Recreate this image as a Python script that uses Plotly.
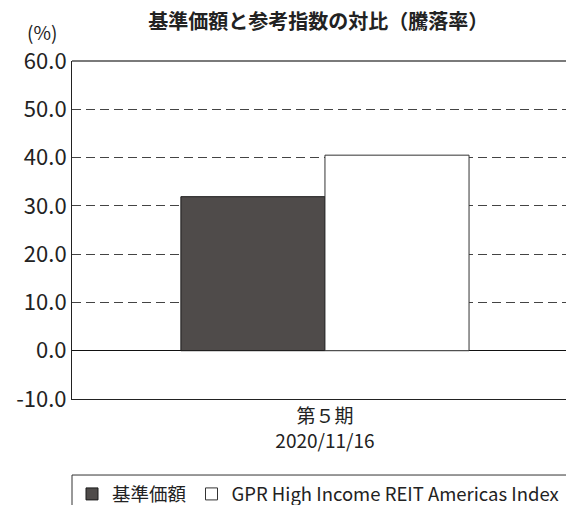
import plotly.graph_objects as go

# data
categories = ["第５期<br>2020/11/16"]
fund_name = "基準価額"
index_name = "GPR High Income REIT Americas Index"
fund_values = [31.9]
index_values = [40.5]
y_ticks = [-10, 0, 10, 20, 30, 40, 50, 60]
y_tick_labels = ["-10.0", "0.0", "10.0", "20.0", "30.0", "40.0", "50.0", "60.0"]

font_family = "Noto Sans CJK JP"

fig = go.Figure()
fig.add_trace(go.Bar(
    x=categories, y=fund_values, name=fund_name,
    marker=dict(color="#4f4b4a", line=dict(color="#1a1a1a", width=1)),
))
fig.add_trace(go.Bar(
    x=categories, y=index_values, name=index_name,
    marker=dict(color="#ffffff", line=dict(color="#333333", width=1)),
))

# page has an 8px body margin, so positions are shifted by 8px
fig.update_layout(
    width=574, height=505,
    margin=dict(l=64, r=0, t=53, b=114, autoexpand=False),
    paper_bgcolor="white", plot_bgcolor="white",
    font=dict(family=font_family, color="#222222", size=20),
    barmode="group", bargap=0.435, bargroupgap=0,
    title=dict(text="<b>基準価額と参考指数の対比（騰落率）</b>",
               x=0.483, xref="paper", xanchor="center",
               y=0.972, yref="container", yanchor="middle", font=dict(size=20)),
    showlegend=True,
    legend=dict(orientation="h", x=0, xanchor="left", y=-0.226, yanchor="top",
                borderwidth=0, bgcolor="rgba(0,0,0,0)",
                font=dict(size=18.5), itemwidth=30, traceorder="normal"),
    xaxis=dict(type="category", range=[-0.496, 0.504], showline=True,
               linecolor="#222222", linewidth=1, ticks="", showgrid=False,
               tickfont=dict(size=19), automargin=False),
    yaxis=dict(range=[-10, 60], tickvals=y_ticks, ticktext=y_tick_labels,
               showline=True, linecolor="#222222", linewidth=1,
               showgrid=True, gridcolor="#444444", griddash="9px,5px", gridwidth=1,
               zeroline=True, zerolinecolor="#111111", zerolinewidth=1,
               ticks="", tickfont=dict(size=22), automargin=False),
    shapes=[
        dict(type="line", xref="paper", yref="paper", x0=0, x1=1, y0=1, y1=1,
             line=dict(color="#7a7a7a", width=2)),
        # legend frame
        dict(type="rect", xref="paper", yref="paper", x0=0, x1=1.05,
             y0=-0.4, y1=-0.2249, line=dict(color="#333333", width=1)),
    ],
    annotations=[dict(text="(%)", xref="paper", yref="paper", x=-0.059, y=1,
                      xanchor="center", yanchor="middle", yshift=30,
                      showarrow=False, font=dict(size=19))],
)

fig.write_html("out.html")
